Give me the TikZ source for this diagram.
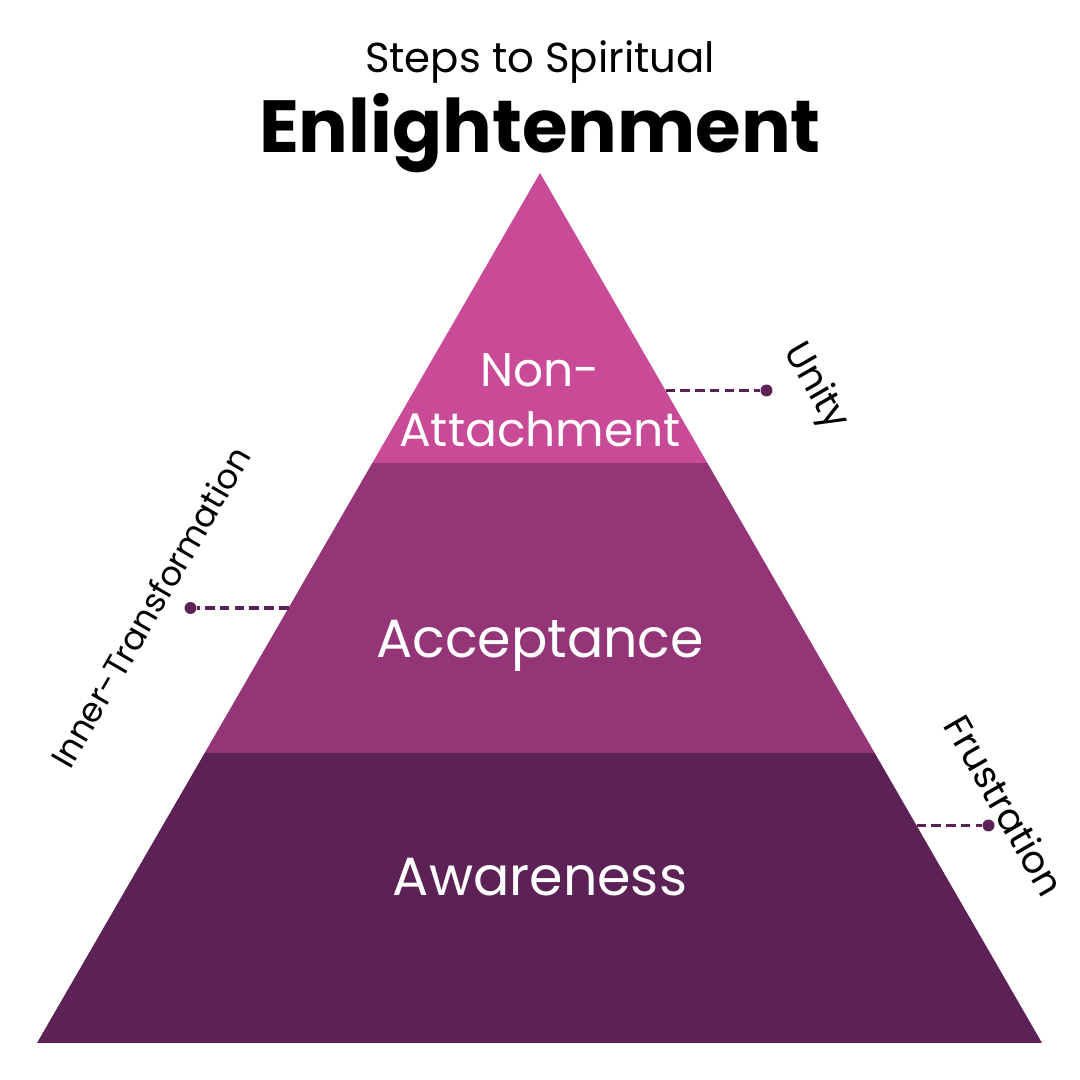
\documentclass[tikz,border=0pt]{standalone}
\usepackage{fontspec}
\setmainfont{Poppins}
\usetikzlibrary{positioning,calc}

\begin{document}
\begin{tikzpicture}[x=0.01cm,y=0.01cm,
  tierlabel/.style={text=white,font=\fontsize{15.3}{18}\selectfont,inner sep=0pt,align=center},
  sidelabel/.style={font=\fontsize{10.7}{13}\selectfont,inner sep=0pt},
  leader/.style={draw=cdot,line width=1pt,dash pattern=on 2.7pt off 1.5pt},
  dotmark/.style={circle,fill=cdot,inner sep=0pt,minimum size=3.4pt}]
\definecolor{ctop}{RGB}{201,75,151}\definecolor{cmid}{RGB}{148,53,119}
\definecolor{cbot}{RGB}{92,34,85}\colorlet{cdot}{cbot}
\useasboundingbox[fill=white] (0,0) rectangle (1080,1080);
% ===== title =====
\node[font=\fontsize{11.9}{14}\selectfont,inner sep=0pt] (subtitle) at (540,1018) {Steps to Spiritual};
\node[font=\fontsize{21}{25}\selectfont\bfseries,inner sep=0pt] (title) at (540,947) {Enlightenment};
% ===== pyramid, three bands of equal height =====
\coordinate (apex) at (540,907);
\coordinate (bl) at (37,37);
\coordinate (br) at (1042,37);
\coordinate (l1) at ($(bl)!1/3!(apex)$);\coordinate (r1) at ($(br)!1/3!(apex)$);
\coordinate (l2) at ($(bl)!2/3!(apex)$);\coordinate (r2) at ($(br)!2/3!(apex)$);
\fill[cbot] (bl)--(br)--(r1)--(l1)--cycle;
\fill[cmid] (l1)--(r1)--(r2)--(l2)--cycle;
\fill[ctop] (l2)--(r2)--(apex)--cycle;
\node[tierlabel,font=\fontsize{13.4}{17}\selectfont] (nonatt) at (540,680) {Non-\\Attachment};
\node[tierlabel] (accept) at (540,434) {Acceptance};
\node[tierlabel] (aware) at (540,203) {Awareness};
% ===== side markers: dot, dashed leader to the pyramid edge =====
\coordinate (eunity) at ($(br)!3/4!(apex)$);
\coordinate (einner) at ($(bl)!1/2!(apex)$);
\coordinate (efrust) at ($(br)!1/4!(apex)$);
\path (eunity) ++(101,0) node[dotmark] (dunity) {};
\path (einner) ++(-98,0) node[dotmark] (dinner) {};
\path (efrust) ++(72,0) node[dotmark] (dfrust) {};
\foreach \e/\d in {eunity/dunity,einner/dinner,efrust/dfrust}{
  \draw[leader] (\e) -- (\d);}
\node[sidelabel,rotate=-60] (unity) at (815,693) {Unity};
\node[sidelabel,rotate=60,font=\fontsize{9.6}{12}\selectfont] (inner) at (150,473) {Inner-Transformation};
\node[sidelabel,rotate=-60] (frust) at (1005,275) {Frustration};
\end{tikzpicture}
\end{document}
